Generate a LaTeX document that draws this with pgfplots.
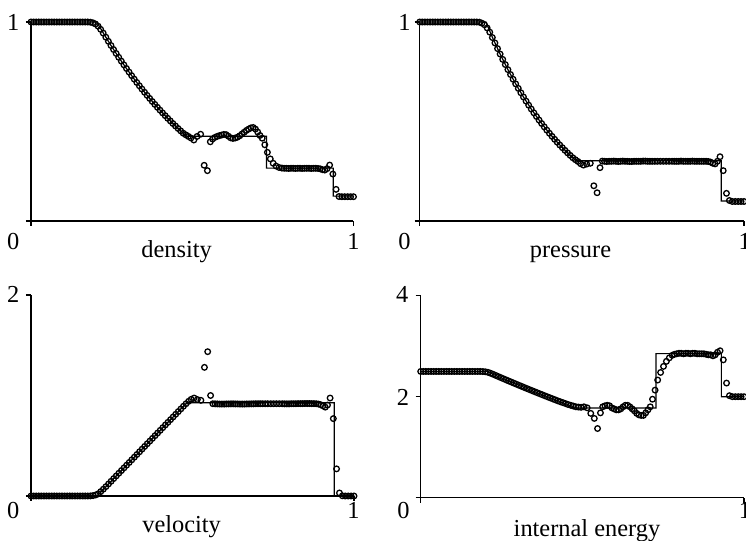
\documentclass[border=0pt]{standalone}
\usepackage{pgfplots}
\pgfplotsset{compat=1.18}
\usepackage{pgfplotstable}
\usepackage{fontspec}
\setmainfont{Liberation Serif}

% numerical solution: x, density, pressure, velocity, internal energy
\pgfplotstableread{
x     rho    p      u      e
0.000 1.000  1.000  0.000  2.500
0.008 1.000  1.000  0.000  2.500
0.016 1.000  1.000  0.000  2.500
0.024 1.000  1.000  0.000  2.500
0.032 1.000  1.000  0.000  2.500
0.040 1.000  1.000  0.000  2.500
0.048 1.000  1.000  0.000  2.500
0.056 1.000  1.000  0.000  2.500
0.064 1.000  1.000  0.000  2.500
0.072 1.000  1.000  0.000  2.500
0.080 1.000  1.000  0.000  2.500
0.088 1.000  1.000  0.000  2.500
0.096 1.000  1.000  0.000  2.500
0.104 1.000  1.000  0.000  2.500
0.112 1.000  1.000  0.000  2.500
0.120 1.000  1.000  0.000  2.500
0.128 1.000  1.000  0.000  2.500
0.136 1.000  1.000  0.000  2.500
0.144 1.000  1.000  0.000  2.500
0.152 1.000  1.000  0.000  2.500
0.160 1.000  1.000  0.000  2.500
0.168 1.000  1.000  0.000  2.500
0.176 1.000  1.000  0.000  2.500
0.184 0.999  0.999  0.001  2.500
0.192 0.996  0.994  0.004  2.498
0.200 0.990  0.986  0.010  2.494
0.208 0.979  0.970  0.022  2.483
0.216 0.963  0.949  0.044  2.465
0.224 0.944  0.922  0.068  2.444
0.232 0.9236 0.8947 0.0933 2.4218
0.240 0.9026 0.8664 0.1200 2.3996
0.248 0.8820 0.8389 0.1467 2.3776
0.256 0.8618 0.8121 0.1733 2.3556
0.264 0.8420 0.7860 0.2000 2.3338
0.272 0.8226 0.7607 0.2267 2.3121
0.280 0.8035 0.7361 0.2533 2.2905
0.288 0.7847 0.7122 0.2800 2.2690
0.296 0.7663 0.6890 0.3067 2.2476
0.304 0.7483 0.6664 0.3333 2.2262
0.312 0.7306 0.6444 0.3600 2.2050
0.320 0.7132 0.6231 0.3867 2.1839
0.328 0.6962 0.6023 0.4133 2.1629
0.336 0.6795 0.5821 0.4400 2.1420
0.344 0.6631 0.5626 0.4667 2.1212
0.352 0.6470 0.5436 0.4933 2.1005
0.360 0.6313 0.5252 0.5200 2.0798
0.368 0.6158 0.5073 0.5467 2.0593
0.376 0.6007 0.4899 0.5733 2.0389
0.384 0.5859 0.4730 0.6000 2.0186
0.392 0.5713 0.4567 0.6267 1.9984
0.400 0.5571 0.4408 0.6533 1.9783
0.408 0.5431 0.4254 0.6800 1.9583
0.416 0.5294 0.4105 0.7067 1.9384
0.424 0.5160 0.3960 0.7333 1.9186
0.432 0.5028 0.3819 0.7600 1.9000
0.440 0.4900 0.3683 0.7867 1.8820
0.448 0.4774 0.3551 0.8133 1.8640
0.456 0.4650 0.3423 0.8400 1.8450
0.464 0.4529 0.3300 0.8667 1.8300
0.472 0.4411 0.3180 0.8933 1.8150
0.480 0.4330 0.3080 0.9180 1.8000
0.488 0.4250 0.2990 0.9420 1.7950
0.496 0.4170 0.2880 0.9620 1.7900
0.505 0.4070 0.2810 0.9750 1.8000
0.515 0.4250 0.2860 0.9600 1.7800
0.526 0.4360 0.2900 0.9520 1.6700
0.537 0.2800 0.1770 1.2800 1.5700
0.547 0.2530 0.1420 1.4360 1.3700
0.556 0.3980 0.2680 1.0000 1.6800
0.563 0.412  0.301  0.918  1.80
0.570 0.420  0.300  0.917  1.82
0.577 0.425  0.299  0.916  1.83
0.584 0.429  0.300  0.915  1.82
0.591 0.432  0.300  0.915  1.78
0.598 0.435  0.301  0.915  1.76
0.605 0.434  0.300  0.916  1.74
0.612 0.426  0.299  0.916  1.74
0.619 0.418  0.300  0.917  1.76
0.626 0.415  0.301  0.917  1.80
0.633 0.417  0.300  0.916  1.83
0.640 0.421  0.300  0.916  1.83
0.647 0.428  0.299  0.915  1.80
0.654 0.437  0.299  0.915  1.76
0.661 0.446  0.300  0.915  1.72
0.668 0.455  0.300  0.916  1.67
0.675 0.462  0.300  0.916  1.64
0.682 0.468  0.300  0.917  1.63
0.689 0.470  0.301  0.917  1.63
0.696 0.462  0.301  0.918  1.68
0.703 0.447  0.300  0.918  1.74
0.710 0.430  0.300  0.918  1.80
0.717 0.416  0.300  0.918  1.95
0.725 0.383  0.300  0.918  2.13
0.733 0.345  0.300  0.918  2.33
0.742 0.312  0.300  0.918  2.48
0.751 0.290  0.300  0.918  2.60
0.760 0.276  0.300  0.918  2.70
0.769 0.269  0.300  0.918  2.77
0.778 0.266  0.300  0.918  2.82
0.785 0.265  0.300  0.917  2.84
0.792 0.265  0.300  0.917  2.85
0.799 0.264  0.300  0.917  2.86
0.806 0.265  0.301  0.918  2.86
0.813 0.265  0.300  0.918  2.85
0.820 0.264  0.300  0.918  2.86
0.827 0.265  0.300  0.919  2.86
0.834 0.265  0.300  0.919  2.85
0.841 0.264  0.301  0.919  2.86
0.848 0.265  0.300  0.920  2.86
0.855 0.265  0.300  0.920  2.85
0.862 0.265  0.300  0.920  2.85
0.869 0.264  0.300  0.919  2.85
0.876 0.265  0.300  0.919  2.85
0.883 0.265  0.300  0.918  2.84
0.890 0.264  0.299  0.915  2.83
0.897 0.262  0.296  0.908  2.83
0.904 0.258  0.290  0.897  2.81
0.911 0.256  0.287  0.884  2.83
0.918 0.263  0.300  0.905  2.88
0.926 0.281  0.323  0.975  2.91
0.936 0.236  0.253  0.770  2.73
0.946 0.159  0.139  0.270  2.27
0.955 0.123  0.103  0.030  2.02
0.964 0.122  0.098  0.002  2.00
0.973 0.122  0.098  0.000  2.00
0.982 0.122  0.098  0.000  2.00
0.991 0.122  0.098  0.000  2.00
1.000 0.122  0.098  0.000  2.00
}\numdata

\pgfplotsset{
  panel/.style={
    scale only axis, anchor=south west, clip=false,
    axis x line=bottom, axis y line=left,
    axis line style={-, line width=0.6pt},
    xmin=0, xmax=1, ymin=0,
    tick align=outside, major tick length=2.5pt,
    tick style={black, line width=0.6pt},
    xtick={0,1}, xticklabels={,}, yticklabels={,,},
  },
  num/.style={only marks, mark=o, mark size=1.4pt, black,
    mark options={line width=0.65pt}},
  exact/.style={black, line width=0.6pt, mark=none},
}

\begin{document}
\begin{tikzpicture}[font=\fontsize{12.2}{14}\selectfont]

% density
\begin{axis}[panel, at={(15.5pt,160pt)}, width=161.25pt, height=99.5pt,
  ymax=1, ytick={0,1}]
\addplot[exact] coordinates {(0,1) (0.2042,1) (0.224,0.9449) (0.248,0.8820)
  (0.272,0.8226) (0.296,0.7663) (0.320,0.7132) (0.344,0.6631) (0.368,0.6158)
  (0.392,0.5713) (0.416,0.5294) (0.440,0.4900) (0.464,0.4529) (0.4824,0.4263)
  (0.730,0.4263) (0.730,0.2656) (0.937,0.2656) (0.937,0.125) (1,0.125)};
\addplot[num] table[x=x, y=rho] {\numdata};
\end{axis}

% pressure
\begin{axis}[panel, at={(209.85pt,160pt)}, width=162.15pt, height=99.5pt,
  ymax=1, ytick={0,1}]
\addplot[exact] coordinates {(0,1) (0.2042,1) (0.224,0.9237) (0.248,0.8389)
  (0.272,0.7607) (0.296,0.6890) (0.320,0.6231) (0.344,0.5626) (0.368,0.5073)
  (0.392,0.4567) (0.416,0.4105) (0.440,0.3683) (0.464,0.3300) (0.4824,0.3031)
  (0.930,0.3031) (0.930,0.1) (1,0.1)};
\addplot[num] table[x=x, y=p] {\numdata};
\end{axis}

% velocity
\begin{axis}[panel, at={(15.5pt,22.5pt)}, width=161.5pt, height=100.5pt,
  ymax=2, ytick={0,2}]
\addplot[exact] coordinates {(0,0) (0.2042,0) (0.4824,0.9273) (0.939,0.9273)
  (0.939,0) (1,0)};
\addplot[num] table[x=x, y=u] {\numdata};
\end{axis}

% internal energy
\begin{axis}[panel, at={(210.35pt,21.65pt)}, width=161.65pt, height=101pt,
  ymax=4, ytick={0,2,4}]
\addplot[exact] coordinates {(0,2.5) (0.2042,2.5) (0.224,2.4440) (0.248,2.3776)
  (0.272,2.3121) (0.296,2.2476) (0.320,2.1839) (0.344,2.1212) (0.368,2.0593)
  (0.392,1.9984) (0.416,1.9384) (0.440,1.8794) (0.464,1.8212) (0.4824,1.7776)
  (0.728,1.7776) (0.728,2.8535) (0.930,2.8535) (0.930,2.0) (1,2.0)};
\addplot[num] table[x=x, y=e] {\numdata};
\end{axis}

% tick numbers and panel names
\node at (6.67pt,259.1pt) {1};
\node at (6.67pt,149.7pt) {0};
\node at (176.7pt,149.7pt) {1};
\node[anchor=base] at (88.3pt,141.8pt) {density};

\node at (202.2pt,259.25pt) {1};
\node at (202.2pt,149.7pt) {0};
\node at (372.3pt,149.7pt) {1};
\node[anchor=base] at (285.25pt,141.8pt) {pressure};

\node at (6.67pt,123.4pt) {2};
\node at (6.67pt,15.1pt) {0};
\node at (176.7pt,15.1pt) {1};
\node[anchor=base] at (90.8pt,4pt) {velocity};

\node at (201.1pt,123.4pt) {4};
\node at (201.5pt,71.75pt) {2};
\node at (201.75pt,15.1pt) {0};
\node at (372.5pt,15.1pt) {1};
\node[anchor=base] at (293.5pt,2pt) {internal energy};

\pgfresetboundingbox
\useasboundingbox (0,0) rectangle (373pt,270.5pt);
\end{tikzpicture}
\end{document}
